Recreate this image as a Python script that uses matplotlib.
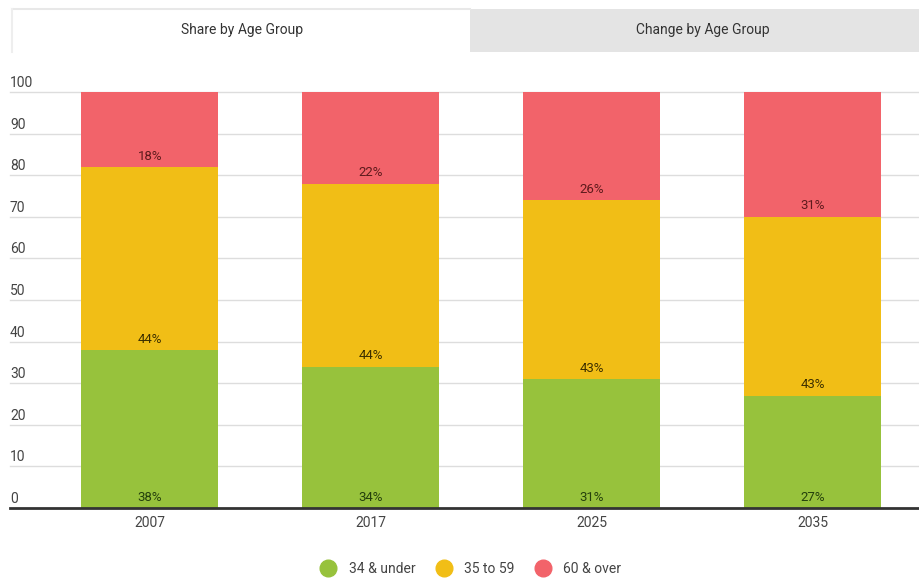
import matplotlib.pyplot as plt
from matplotlib.patches import Rectangle
from matplotlib.lines import Line2D
import matplotlib.transforms as mtransforms

plt.rcParams['font.family'] = ['Roboto', 'DejaVu Sans']

years = ["2007", "2017", "2025", "2035"]
under_34 = [38, 34, 31, 27]
age_35_59 = [44, 44, 43, 43]
over_60 = [18, 22, 26, 31]
groups = ["34 & under", "35 to 59", "60 & over"]
colors = ["#97c23c", "#f1be16", "#f2636a"]
label_colors = ["#24400c", "#3d3000", "#5e1a1c"]
yticks = [0, 10, 20, 30, 40, 50, 60, 70, 80, 90, 100]

W, H = 919, 580
fig = plt.figure(figsize=(W / 100, H / 100), dpi=100)

# tabs
fig.patches.append(Rectangle((470 / W, 1 - 52 / H), (W - 470) / W, 43 / H,
                             transform=fig.transFigure, facecolor="#e4e4e4",
                             edgecolor="none", zorder=0))
fig.add_artist(Line2D([12 / W, 470 / W], [1 - 9 / H, 1 - 9 / H],
                      transform=fig.transFigure, color="#e8e8e8", linewidth=1.5))
fig.add_artist(Line2D([12 / W, 12 / W], [1 - 9 / H, 1 - 52 / H],
                      transform=fig.transFigure, color="#eeeeee", linewidth=1.5))
fig.text(242 / W, 1 - 30 / H, "Share by Age Group", ha="center", va="center",
         fontsize=10, color="#333333")
fig.text(703 / W, 1 - 30 / H, "Change by Age Group", ha="center", va="center",
         fontsize=10, color="#333333")

ax = fig.add_axes([10 / W, (H - 508) / H, 909 / W, (508 - 92) / H])
x = list(range(len(years)))
width = 0.62
series = [under_34, age_35_59, over_60]
bottom = [0] * len(years)
for vals, c, lc in zip(series, colors, label_colors):
    ax.bar(x, vals, width, bottom=bottom, color=c, zorder=2)
    for xi, b, v in zip(x, bottom, vals):
        ax.text(xi, b + 2.6, f"{v}%", ha="center", va="center",
                fontsize=9.5, color=lc, zorder=3)
    bottom = [b + v for b, v in zip(bottom, vals)]

ax.set_xlim(-0.633, 3.48)
ax.set_ylim(0, 100)
for s in ax.spines.values():
    s.set_visible(False)
ax.set_yticks([])
for t in yticks[1:]:
    ax.axhline(t, color="#dddddd", linewidth=1, zorder=1, clip_on=False)
ax.axhline(0, color="#333333", linewidth=2, zorder=4, clip_on=False)

trans = mtransforms.blended_transform_factory(ax.transAxes, ax.transData)
for t in yticks:
    ax.text(0, t + 0.5, str(t), transform=trans, ha="left", va="bottom",
            fontsize=10, color="#444444")

ax.set_xticks(x)
ax.set_xticklabels(years, fontsize=10, color="#444444")
ax.tick_params(axis="x", length=0, pad=6)

handles = [Line2D([], [], marker="o", linestyle="none", markersize=12,
                  markerfacecolor=c, markeredgecolor=c) for c in colors]
fig.legend(handles, groups, loc="center", bbox_to_anchor=(468 / W, 1 - 569 / H),
           ncol=3, frameon=False, fontsize=10, handletextpad=0.5,
           columnspacing=1.0, labelcolor="#444444")

fig.savefig("out.png", dpi=100, facecolor="white")
